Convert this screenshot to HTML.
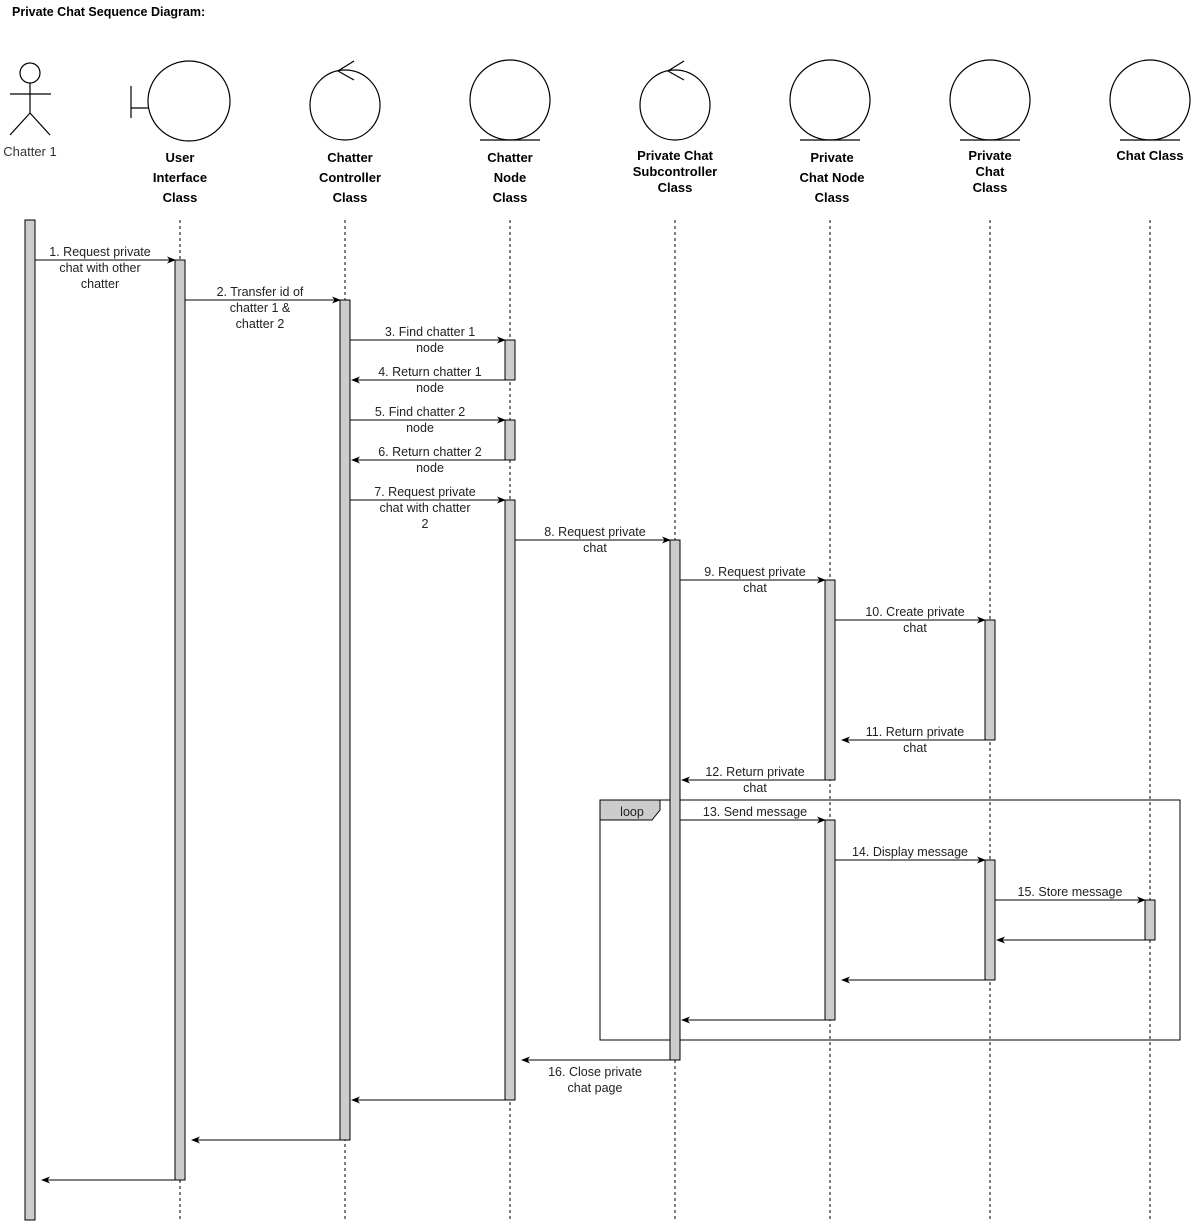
<!DOCTYPE html>
<html><head><meta charset="utf-8"><style>
html,body{margin:0;padding:0;background:#fff;}
svg{display:block;}
text{font-family:"Liberation Sans",Arial,sans-serif;}
.b{font-weight:bold;font-size:13px;fill:#000;text-anchor:middle;}
.m{font-size:12.5px;fill:#222;text-anchor:middle;}
</style></head><body>
<svg width="1191" height="1222" viewBox="0 0 1191 1222" xmlns="http://www.w3.org/2000/svg">
<defs>
<marker id="a" markerWidth="10" markerHeight="10" refX="8" refY="5" orient="auto" markerUnits="userSpaceOnUse">
<path d="M0,1.5 L9,5 L0,8.5 L2.5,5 Z" fill="#000"/>
</marker>
</defs>
<text x="12" y="16" style="font-weight:bold;font-size:12.5px">Private Chat Sequence Diagram:</text>

<g fill="none" stroke="#000" stroke-width="1.2">
<circle cx="30" cy="73" r="10"/>
<line x1="30" y1="83" x2="30" y2="113"/>
<line x1="10" y1="94" x2="51" y2="94"/>
<line x1="30" y1="113" x2="10" y2="135"/>
<line x1="30" y1="113" x2="50" y2="135"/>
<ellipse cx="189" cy="101" rx="41" ry="40"/>
<line x1="131" y1="86" x2="131" y2="118"/>
<line x1="131" y1="108" x2="148" y2="108"/>
<ellipse cx="345" cy="105" rx="35" ry="35"/>
<polyline points="354,61 338,71 354,80"/>
<ellipse cx="510" cy="100" rx="40" ry="40"/>
<line x1="480" y1="140" x2="540" y2="140"/>
<ellipse cx="675" cy="105" rx="35" ry="35"/>
<polyline points="684,61 668,71 684,80"/>
<ellipse cx="830" cy="100" rx="40" ry="40"/>
<line x1="800" y1="140" x2="860" y2="140"/>
<ellipse cx="990" cy="100" rx="40" ry="40"/>
<line x1="960" y1="140" x2="1020" y2="140"/>
<ellipse cx="1150" cy="100" rx="40" ry="40"/>
<line x1="1120" y1="140" x2="1180" y2="140"/>
</g>
<text x="30" y="156" style="font-size:13px;fill:#333;text-anchor:middle">Chatter 1</text>
<text class="b" x="180" y="162">User</text><text class="b" x="180" y="182">Interface</text><text class="b" x="180" y="202">Class</text>
<text class="b" x="350" y="162">Chatter</text><text class="b" x="350" y="182">Controller</text><text class="b" x="350" y="202">Class</text>
<text class="b" x="510" y="162">Chatter</text><text class="b" x="510" y="182">Node</text><text class="b" x="510" y="202">Class</text>
<text class="b" x="675" y="160">Private Chat</text><text class="b" x="675" y="176">Subcontroller</text><text class="b" x="675" y="192">Class</text>
<text class="b" x="832" y="162">Private</text><text class="b" x="832" y="182">Chat Node</text><text class="b" x="832" y="202">Class</text>
<text class="b" x="990" y="160">Private</text><text class="b" x="990" y="176">Chat</text><text class="b" x="990" y="192">Class</text>
<text class="b" x="1150" y="160">Chat Class</text>

<g stroke="#000" stroke-width="1" stroke-dasharray="3,3">
<line x1="180" y1="220" x2="180" y2="1220"/>
<line x1="345" y1="220" x2="345" y2="1220"/>
<line x1="510" y1="220" x2="510" y2="1220"/>
<line x1="675" y1="220" x2="675" y2="1220"/>
<line x1="830" y1="220" x2="830" y2="1220"/>
<line x1="990" y1="220" x2="990" y2="1220"/>
<line x1="1150" y1="220" x2="1150" y2="1220"/>
</g>

<rect x="600" y="800" width="580" height="240" fill="none" stroke="#000"/>
<path d="M600,800 L660,800 L660,810 L652,820 L600,820 Z" fill="#ccc" stroke="#000"/>
<text x="632" y="816" style="font-size:12.5px;fill:#222;text-anchor:middle">loop</text>

<g fill="#ccc" stroke="#000" stroke-width="1">
<rect x="25" y="220" width="10" height="1000"/>
<rect x="175" y="260" width="10" height="920"/>
<rect x="340" y="300" width="10" height="840"/>
<rect x="505" y="340" width="10" height="40"/>
<rect x="505" y="420" width="10" height="40"/>
<rect x="505" y="500" width="10" height="600"/>
<rect x="670" y="540" width="10" height="520"/>
<rect x="825" y="580" width="10" height="200"/>
<rect x="825" y="820" width="10" height="200"/>
<rect x="985" y="620" width="10" height="120"/>
<rect x="985" y="860" width="10" height="120"/>
<rect x="1145" y="900" width="10" height="40"/>
</g>

<g stroke="#000" stroke-width="1" marker-end="url(#a)">
<line x1="35" y1="260" x2="175" y2="260"/>
<line x1="185" y1="300" x2="340" y2="300"/>
<line x1="350" y1="340" x2="505" y2="340"/>
<line x1="505" y1="380" x2="352" y2="380"/>
<line x1="350" y1="420" x2="505" y2="420"/>
<line x1="505" y1="460" x2="352" y2="460"/>
<line x1="350" y1="500" x2="505" y2="500"/>
<line x1="515" y1="540" x2="670" y2="540"/>
<line x1="680" y1="580" x2="825" y2="580"/>
<line x1="835" y1="620" x2="985" y2="620"/>
<line x1="985" y1="740" x2="842" y2="740"/>
<line x1="825" y1="780" x2="682" y2="780"/>
<line x1="680" y1="820" x2="825" y2="820"/>
<line x1="835" y1="860" x2="985" y2="860"/>
<line x1="995" y1="900" x2="1145" y2="900"/>
<line x1="1145" y1="940" x2="997" y2="940"/>
<line x1="985" y1="980" x2="842" y2="980"/>
<line x1="825" y1="1020" x2="682" y2="1020"/>
<line x1="670" y1="1060" x2="522" y2="1060"/>
<line x1="505" y1="1100" x2="352" y2="1100"/>
<line x1="340" y1="1140" x2="192" y2="1140"/>
<line x1="175" y1="1180" x2="42" y2="1180"/>
</g>

<g class="m">
<text class="m" x="100" y="256">1. Request private</text><text class="m" x="100" y="272">chat with other</text><text class="m" x="100" y="288">chatter</text>
<text class="m" x="260" y="296">2. Transfer id of</text><text class="m" x="260" y="312">chatter 1 &amp;</text><text class="m" x="260" y="328">chatter 2</text>
<text class="m" x="430" y="336">3. Find chatter 1</text><text class="m" x="430" y="352">node</text>
<text class="m" x="430" y="376">4. Return chatter 1</text><text class="m" x="430" y="392">node</text>
<text class="m" x="420" y="416">5. Find chatter 2</text><text class="m" x="420" y="432">node</text>
<text class="m" x="430" y="456">6. Return chatter 2</text><text class="m" x="430" y="472">node</text>
<text class="m" x="425" y="496">7. Request private</text><text class="m" x="425" y="512">chat with chatter</text><text class="m" x="425" y="528">2</text>
<text class="m" x="595" y="536">8. Request private</text><text class="m" x="595" y="552">chat</text>
<text class="m" x="755" y="576">9. Request private</text><text class="m" x="755" y="592">chat</text>
<text class="m" x="915" y="616">10. Create private</text><text class="m" x="915" y="632">chat</text>
<text class="m" x="915" y="736">11. Return private</text><text class="m" x="915" y="752">chat</text>
<text class="m" x="755" y="776">12. Return private</text><text class="m" x="755" y="792">chat</text>
<text class="m" x="755" y="816">13. Send message</text>
<text class="m" x="910" y="856">14. Display message</text>
<text class="m" x="1070" y="896">15. Store message</text>
<text class="m" x="595" y="1076">16. Close private</text><text class="m" x="595" y="1092">chat page</text>
</g>
</svg>
</body></html>
